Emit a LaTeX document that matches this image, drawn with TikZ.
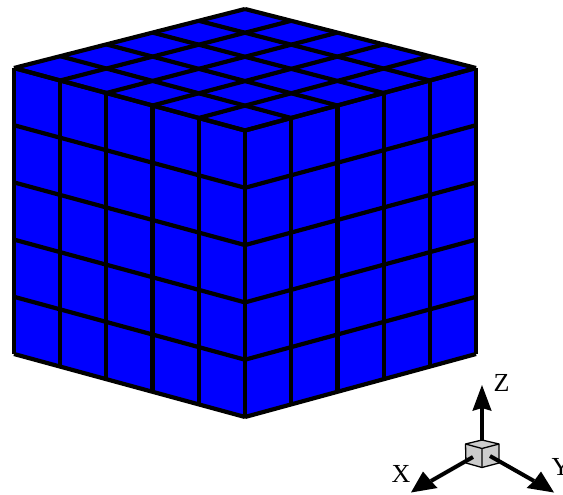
\documentclass[tikz,border=0pt]{standalone}
\usepackage{fontspec}
\usetikzlibrary{calc}
\setmainfont{Liberation Serif}
\definecolor{cubeblue}{RGB}{0,0,255}
\definecolor{miniface}{RGB}{204,204,204}
\tikzset{
  gridline/.style={draw=black,line width=4.2pt,line cap=butt,line join=miter},
  miniedge/.style={draw=black,line width=1.3pt,line join=round},
  axisline/.style={draw=black,line width=4pt},
  axishead/.style={fill=black,draw=none},
  axislabel/.style={font=\fontsize{26}{26}\selectfont,inner sep=0pt,text=black}
}
\begin{document}
\begin{tikzpicture}[x=1pt,y=-1pt]
\useasboundingbox (0,0) rectangle (563,495);
% main cube corners
\coordinate (L) at (14,68);
\coordinate (F) at (245,130.5);
\coordinate (R) at (476,68);
\coordinate (B) at (245,9);
\coordinate (LB) at (14,354);
\coordinate (FB) at (245,417);
\coordinate (RB) at (476,354);
\fill[cubeblue] (L) -- (B) -- (R) -- (RB) -- (FB) -- (LB) -- cycle;
\foreach \i in {0,...,5}{
  \pgfmathsetmacro{\t}{\i/5}
  % top face
  \draw[gridline] ($(L)!\t!(F)$) -- ($(B)!\t!(R)$);
  \draw[gridline] ($(L)!\t!(B)$) -- ($(F)!\t!(R)$);
  % left face
  \draw[gridline] ($(L)!\t!(F)$) -- ($(LB)!\t!(FB)$);
  \draw[gridline] ($(L)!\t!(LB)$) -- ($(F)!\t!(FB)$);
  % right face
  \draw[gridline] ($(F)!\t!(R)$) -- ($(FB)!\t!(RB)$);
  \draw[gridline] ($(F)!\t!(FB)$) -- ($(R)!\t!(RB)$);
}
% miniature cube
\coordinate (mT) at (482,440);
\coordinate (mL) at (465.5,444);
\coordinate (mR) at (499,444);
\coordinate (mF) at (482,448.5);
\coordinate (mLB) at (466,463);
\coordinate (mRB) at (499,463);
\coordinate (mFB) at (482,467.5);
\path[miniedge,fill=miniface] (mT) -- (mR) -- (mRB) -- (mFB) -- (mLB) -- (mL) -- cycle;
\draw[miniedge] (mL) -- (mF) -- (mR) (mF) -- (mFB);
% axes
\coordinate (zs) at (482,441);
\coordinate (zb) at (482,408);
\coordinate (zt) at (482,385);
\coordinate (xs) at (473,457);
\coordinate (xb) at (431,481);
\coordinate (xt) at (411,492.5);
\coordinate (ys) at (490,456);
\coordinate (yb) at (534,481);
\coordinate (yt) at (554,492.5);
\draw[axisline] (zs) -- (zb);
\draw[axisline] (xs) -- (xb);
\draw[axisline] (ys) -- (yb);
\fill[axishead] (zt) -- (472.3,411) -- (482,408) -- (491.7,411) -- cycle;
\fill[axishead] (xt) -- (423,471.5) -- (431,481) -- (437.5,488) -- cycle;
\fill[axishead] (yt) -- (541,471.5) -- (534,481) -- (526.5,488) -- cycle;
\node[axislabel] (labelZ) at (501.5,383) {Z};
\node[axislabel] (labelX) at (401,473.5) {X};
\node[axislabel] (labelY) at (561,467) {Y};
\end{tikzpicture}
\end{document}
